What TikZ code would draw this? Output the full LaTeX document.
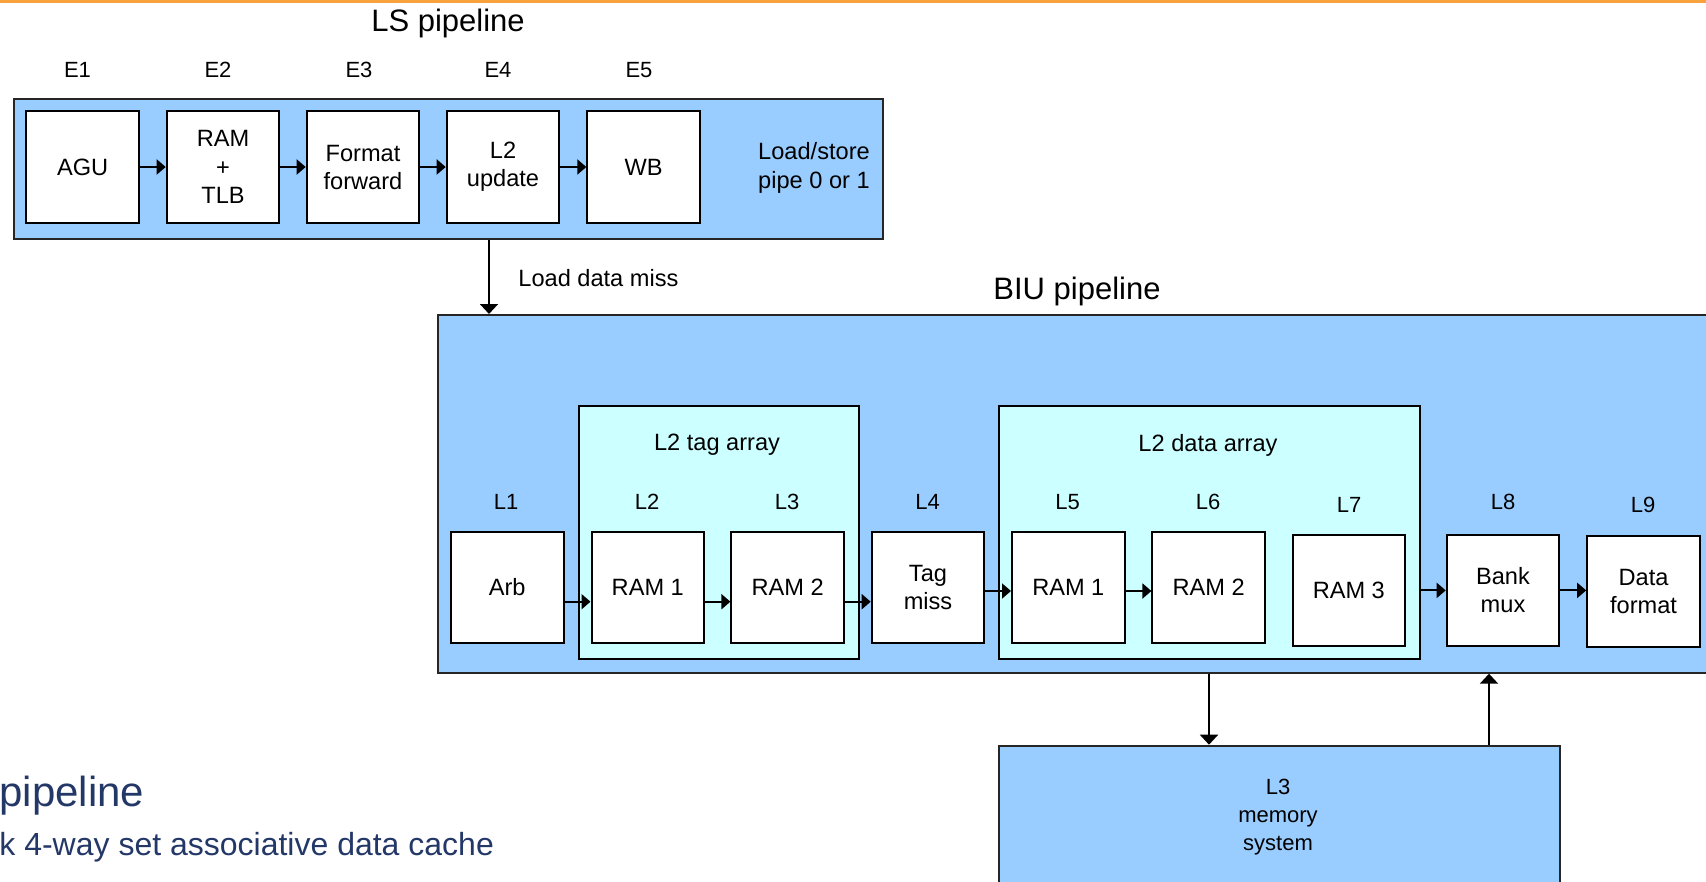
\documentclass[tikz,border=0pt]{standalone}
\usepackage{fontspec}
\setmainfont{Liberation Sans}
\usetikzlibrary{arrows.meta}
\definecolor{pipeblue}{RGB}{153,204,255}
\definecolor{arraycyan}{RGB}{204,255,255}
\definecolor{rulecolor}{RGB}{247,162,60}
\definecolor{navytext}{RGB}{36,56,104}

\begin{document}
\begin{tikzpicture}[x=0.5pt,y=-0.5pt,
  pipebox/.style={draw=black!85, fill=pipeblue, line width=1pt, inner sep=0pt, anchor=north west},
  arraybox/.style={draw=black, fill=arraycyan, line width=1pt, inner sep=0pt, anchor=north west},
  stagebox/.style={draw=black, fill=white, line width=1pt, minimum width=56.3pt, minimum height=55.8pt,
    inner sep=0pt, align=center, font=\fontsize{11.8}{14}\selectfont},
  stagelabel/.style={font=\fontsize{11}{13}\selectfont, inner sep=0pt},
  titletext/.style={font=\fontsize{15.5}{18}\selectfont, inner sep=0pt},
  plaintext/.style={font=\fontsize{11.8}{14}\selectfont, inner sep=0pt, align=center},
  flow/.style={line width=1pt, -{Triangle[length=4.5pt,width=7.5pt]}},
  vflow/.style={line width=1pt, -{Triangle[length=5pt,width=9pt]}},
]
\useasboundingbox (0,0) rectangle (1706,882);
\clip (0,0) rectangle (1706,882);

% rule along the top edge
\draw[rulecolor, line width=1.35pt] (0,1.35) -- (1706,1.35);

% ---------------- LS pipeline ----------------
\node[titletext] (lstitle) at (448,23) {LS pipeline};
\node[pipebox, minimum width=434.7pt, minimum height=70pt] (ls) at (12.6,97.7) {};

\node[stagelabel] (e1) at (77.5,70) {E1};
\node[stagelabel] (e2) at (218,70) {E2};
\node[stagelabel] (e3) at (359,70) {E3};
\node[stagelabel] (e4) at (498,70) {E4};
\node[stagelabel] (e5) at (639,70) {E5};

\node[stagebox] (agu) at (82.7,167) {AGU};
\node[stagebox, font=\fontsize{11.8}{14.3}\selectfont] (tlb) at (223,167) {RAM\\+\\TLB};
\node[stagebox] (fmt) at (363,167) {Format\\forward};
\node[stagebox] (upd) at (503,167) {L2\\update};
\node[stagebox] (wb) at (643.6,167) {WB};
\node[plaintext, font=\fontsize{11.8}{14.5}\selectfont] (lsnote) at (814,167.5) {Load/store\\pipe 0 or 1};

\draw[flow] (agu.east) -- (tlb.west);
\draw[flow] (tlb.east) -- (fmt.west);
\draw[flow] (fmt.east) -- (upd.west);
\draw[flow] (upd.east) -- (wb.west);

% ---------------- BIU pipeline ----------------
\node[titletext] (biutitle) at (1077,291.6) {BIU pipeline};
\node[pipebox, minimum width=641.5pt, minimum height=178.85pt] (biu) at (437,314) {};

\coordinate (missx) at (489,0);
\draw[vflow] (ls.south -| missx) -- (biu.north -| missx);
\node[plaintext, anchor=west] (misslabel) at (518,278) {Load data miss};

\node[arraybox, minimum width=140pt, minimum height=126.35pt] (tagarr) at (578,405) {};
\node[arraybox, minimum width=210.35pt, minimum height=126.35pt] (dataarr) at (998,405) {};
\node[plaintext] (tagtitle) at (717,445) {L2 tag array};
\node[plaintext] (datatitle) at (1208,445) {L2 data array};

\node[stagelabel] (l1) at (506,501.7) {L1};
\node[stagelabel] (l2) at (647,501.7) {L2};
\node[stagelabel] (l3) at (787,501.7) {L3};
\node[stagelabel] (l4) at (927.5,501.7) {L4};
\node[stagelabel] (l5) at (1067.5,501.7) {L5};
\node[stagelabel] (l6) at (1208,501.7) {L6};
\node[stagelabel] (l7) at (1349,505) {L7};
\node[stagelabel] (l8) at (1503,501.7) {L8};
\node[stagelabel] (l9) at (1643,505) {L9};

\node[stagebox] (arb) at (507.2,587.5) {Arb};
\node[stagebox] (tram1) at (647.8,587.5) {RAM 1};
\node[stagebox] (tram2) at (787.7,587.5) {RAM 2};
\node[stagebox] (tmiss) at (928,587.5) {Tag\\miss};
\node[stagebox] (dram1) at (1068.3,587.5) {RAM 1};
\node[stagebox] (dram2) at (1208.7,587.5) {RAM 2};
\node[stagebox] (dram3) at (1348.8,590.4) {RAM 3};
\node[stagebox] (bank) at (1503,590.4) {Bank\\mux};
\node[stagebox] (dfmt) at (1643.5,591.5) {Data\\format};

\draw[flow] ([yshift=-7.1pt]arb.east) -- ([yshift=-7.1pt]tram1.west);
\draw[flow] ([yshift=-7.1pt]tram1.east) -- ([yshift=-7.1pt]tram2.west);
\draw[flow] ([yshift=-7.1pt]tram2.east) -- ([yshift=-7.1pt]tmiss.west);
\draw[flow] ([yshift=-1.75pt]tmiss.east) -- ([yshift=-1.75pt]dram1.west);
\draw[flow] ([yshift=-1.75pt]dram1.east) -- ([yshift=-1.75pt]dram2.west);
\draw[flow] (bank.west -| dataarr.east) -- (bank.west);
\draw[flow] (bank.east) -- (bank.east -| dfmt.west);

% ---------------- L3 memory system ----------------
\node[pipebox, minimum width=280.25pt, minimum height=80pt] (l3mem) at (998,744.7) {};
\node[plaintext, font=\fontsize{11}{14}\selectfont, anchor=north] (l3text) at (1278,779) {L3\\memory\\system};

\coordinate (downx) at (1209,0);
\coordinate (upx) at (1489,0);
\draw[vflow] (biu.south -| downx) -- (l3mem.north -| downx);
\draw[vflow] (l3mem.north -| upx) -- (biu.south -| upx);

% ---------------- slide text, lower left ----------------
\node[navytext, font=\fontsize{21}{24}\selectfont, inner sep=0pt, anchor=base west] (pipeword) at (-1,806.7) {pipeline};
\node[navytext, font=\fontsize{16}{19}\selectfont, inner sep=0pt, anchor=base west] (cacheline) at (-1,855.7) {k 4-way set associative data cache};
\end{tikzpicture}
\end{document}
